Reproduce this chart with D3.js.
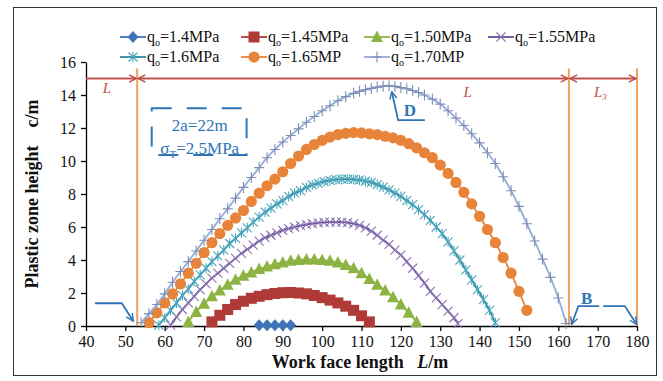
<!DOCTYPE html>
<html>
<head>
<meta charset="utf-8">
<script src="https://cdn.jsdelivr.net/npm/d3@7"></script>
<style>
  body { margin: 0; background: #fff; }
  svg text { font-family: "Times New Roman", "Liberation Serif", serif; }
</style>
</head>
<body>
<svg id="chart" width="663" height="381"></svg>
<script>
// values: [work face length L (m), plastic zone height c (m)]
const q140 = [[84,0.05],[86,0.05],[88,0.05],[90,0.05],[92,0.05]]

const q145 = [[72,0.25],[74,0.65],[76,1.0],[78,1.3],[80,1.5],[82,1.68],[84,1.8],[86,1.9],[88,1.97],[90,2.02],
  [92,2.03],[94,2.0],[96,1.95],[98,1.85],[100,1.72],[102,1.57],[104,1.4],[106,1.2],[108,0.95],[110,0.62],[112,0.25]]

const q150 = [[66,0.25],[68,0.85],[70,1.35],[72,1.8],[74,2.15],[76,2.5],[78,2.8],[80,3.05],[82,3.25],[84,3.45],
  [86,3.6],[88,3.75],[90,3.85],[92,3.95],[94,4.0],[96,4.03],[98,4.03],[100,4.0],[102,3.95],[104,3.85],[106,3.7],
  [108,3.5],[110,3.2],[112,2.85],[114,2.5],[116,2.15],[118,1.75],[120,1.3],[122,0.8],[124,0.25]]

const q155 = [[61.5,0.05],[63,0.55],[64.5,1.0],[66,1.4],[67.5,1.8],[69,2.2],[70.5,2.55],[72,2.9],[73.5,3.2],[75,3.5],
  [76.5,3.8],[78,4.1],[79.5,4.4],[81,4.65],[82.5,4.9],[84,5.15],[85.5,5.35],[87,5.5],[88.5,5.65],[90,5.8],[91.5,5.9],
  [93,6.0],[94.5,6.08],[96,6.15],[97.5,6.2],[99,6.25],[100.5,6.28],[102,6.3],[103.5,6.3],[105,6.3],[106.5,6.27],
  [108,6.2],[109.5,6.1],[111,5.95],[112.5,5.75],[114,5.5],[115.5,5.2],[117,4.95],[118.5,4.6],[120,4.3],[121.5,3.9],
  [123,3.5],[124.5,3.05],[126,2.6],[127.5,2.1],[129,1.7],[130.5,1.3],[132,0.9],[133.5,0.5],[134.5,0.15]]

const q160 = [[58.5,0.05],[60,0.5],[61.5,0.95],[63,1.4],[64.5,1.85],[66,2.25],[67.5,2.7],[69,3.1],[70.5,3.5],[72,3.9],
  [73.5,4.25],[75,4.6],[76.5,5.0],[78,5.3],[79.5,5.65],[81,5.95],[82.5,6.3],[84,6.6],[85.5,6.9],[87,7.15],[88.5,7.4],
  [90,7.6],[91.5,7.85],[93,8.05],[94.5,8.2],[96,8.4],[97.5,8.55],[99,8.65],[100.5,8.75],[102,8.82],[103.5,8.87],
  [105,8.9],[106.5,8.9],[108,8.88],[109.5,8.85],[111,8.78],[112.5,8.7],[114,8.57],[115.5,8.42],[117,8.25],[118.5,8.05],
  [120,7.85],[121.5,7.6],[123,7.35],[124.5,7.05],[126,6.75],[127.5,6.4],[129,6.0],[130.5,5.6],[132,5.1],[133.5,4.55],
  [135,4.0],[136.5,3.4],[138,2.8],[139.5,2.2],[141,1.6],[142.5,0.95],[144,0.2]]

const q165 = [[56,0.2],[58,0.8],[60,1.4],[62,1.95],[64,2.55],[66,3.2],[68,3.8],[70,4.45],[72,5.05],[74,5.6],
  [76,6.1],[78,6.55],[80,7.0],[82,7.55],[84,8.05],[86,8.5],[88,8.9],[90,9.35],[92,9.85],[94,10.3],[96,10.7],
  [98,11.0],[100,11.25],[102,11.45],[104,11.6],[106,11.68],[108,11.72],[110,11.7],[112,11.65],[114,11.6],[116,11.5],
  [118,11.4],[120,11.25],[122,11.05],[124,10.8],[126,10.5],[128,10.2],[130,9.75],[132,9.25],[134,8.7],[136,8.1],
  [138,7.4],[140,6.65],[142,5.85],[144,5.05],[146,4.15],[148,3.2],[150,2.1],[152,0.95]]

const q170 = [[54,0.2],[56,0.75],[58,1.3],[60,1.95],[62,2.65],[64,3.3],[66,3.9],[68,4.55],[70,5.2],[72,5.85],
  [74,6.5],[76,7.1],[78,7.75],[80,8.4],[82,9.0],[84,9.6],[86,10.2],[88,10.7],[90,11.15],[92,11.55],[94,11.95],
  [96,12.35],[98,12.7],[100,13.05],[102,13.35],[104,13.65],[106,13.9],[108,14.1],[109.5,14.22],[111,14.32],
  [112.5,14.4],[114,14.48],[115.5,14.53],[117,14.56],[118.5,14.52],[120,14.45],[121.5,14.38],[123,14.27],
  [124.5,14.15],[126,14.0],[128,13.75],[130,13.45],[132,13.05],[134,12.6],[136,12.15],[138,11.65],[140,11.1],
  [142,10.5],[144,9.85],[146,9.05],[148,8.2],[150,7.25],[152,6.2],[154,5.15],[156,4.05],[158,2.95],[160,1.7],[162,0.15]]

const seriesLabels = ['=1.4MPa', '=1.45MPa', '=1.50MPa', '=1.55MPa', '=1.6MPa', '=1.65MP', '=1.70MP']
const xTicks = [40, 50, 60, 70, 80, 90, 100, 110, 120, 130, 140, 150, 160, 170, 180]
const yTicks = [0, 2, 4, 6, 8, 10, 12, 14, 16]

const series = [
  { data: q140, label: seriesLabels[0], line: '#3f73b8', mark: '#3f73b8', shape: 'diamond' },
  { data: q145, label: seriesLabels[1], line: '#b03a38', mark: '#b03a38', shape: 'square' },
  { data: q150, label: seriesLabels[2], line: '#8db443', mark: '#8db443', shape: 'triangle' },
  { data: q155, label: seriesLabels[3], line: '#6b4a97', mark: '#8a74b3', shape: 'x' },
  { data: q160, label: seriesLabels[4], line: '#2f8d9f', mark: '#4aa6bd', shape: 'star' },
  { data: q165, label: seriesLabels[5], line: '#e8843a', mark: '#e8843a', shape: 'circle' },
  { data: q170, label: seriesLabels[6], line: '#93abd6', mark: '#7d8db6', shape: 'plus' }
]

const svg = d3.select('#chart')
const x = d3.scaleLinear().domain([40, 180]).range([86, 637])
const y = d3.scaleLinear().domain([0, 16]).range([326, 62])

// outer frame
svg.append('rect').attr('x', 13.5).attr('y', 7.5).attr('width', 643).attr('height', 368)
  .attr('fill', 'none').attr('stroke', '#333').attr('stroke-width', 1)

// arrow heads
const defs = svg.append('defs')
function arrowDef(id, color) {
  defs.append('marker').attr('id', id)
    .attr('viewBox', '0 0 10 10').attr('refX', 9).attr('refY', 5)
    .attr('markerWidth', 9).attr('markerHeight', 9).attr('markerUnits', 'userSpaceOnUse')
    .attr('orient', 'auto-start-reverse')
    .append('path').attr('d', 'M1,1 L9,5 L1,9')
    .attr('fill', 'none').attr('stroke', color).attr('stroke-width', 1.6)
}
arrowDef('arRed', '#c0504d')
arrowDef('arBlue', '#2e75b6')

// axes
const xAxis = svg.append('g').attr('transform', `translate(0,${y(0)})`)
  .call(d3.axisBottom(x).tickValues(xTicks).tickSize(5).tickSizeOuter(0).tickPadding(5))
const yAxis = svg.append('g').attr('transform', `translate(${x(40)},0)`)
  .call(d3.axisLeft(y).tickValues(yTicks).tickSize(5).tickSizeOuter(0).tickPadding(5))
;[xAxis, yAxis].forEach(a => {
  a.selectAll('path, line').attr('stroke', '#000').attr('stroke-width', 1.3)
  a.selectAll('text').attr('font-size', 16).attr('fill', '#111')
    .attr('font-family', '"Times New Roman","Liberation Serif",serif')
})

// reference lines (orange verticals, red dimension line)
const vLines = [53, 162.7, 180]
vLines.forEach(v => {
  svg.append('line').attr('x1', x(v)).attr('x2', x(v)).attr('y1', y(15.6)).attr('y2', y(0))
    .attr('stroke', '#f5a05a').attr('stroke-width', 2)
})
const dims = [[40, 53, false], [53, 162.7, true], [162.7, 180, true]]
dims.forEach(([a, b, both]) => {
  const l = svg.append('line').attr('x1', x(a) + (both ? 1 : 0)).attr('x2', x(b) - 1)
    .attr('y1', y(15)).attr('y2', y(15))
    .attr('stroke', '#c0504d').attr('stroke-width', 1.8)
    .attr('marker-end', 'url(#arRed)')
  if (both) l.attr('marker-start', 'url(#arRed)')
})
function redL(v, yv, sub) {
  const t = svg.append('text').attr('x', x(v)).attr('y', y(yv)).attr('fill', '#c0504d')
    .attr('font-size', 15).attr('font-style', 'italic').attr('text-anchor', 'middle').text('L')
  if (sub) t.append('tspan').attr('font-size', 9).attr('dy', 3).text(sub)
}
redL(45.3, 14.1)
redL(137, 13.9)
redL(170.7, 13.9, '3')

// series lines and markers
const lineGen = d3.line().x(d => x(d[0])).y(d => y(d[1])).curve(d3.curveCatmullRom.alpha(0.5))

function drawMarker(g, shape, color) {
  if (shape === 'diamond') {
    g.append('path').attr('d', 'M0,-6L5.5,0L0,6L-5.5,0Z').attr('fill', color)
  } else if (shape === 'square') {
    g.append('rect').attr('x', -5.5).attr('y', -5.5).attr('width', 11).attr('height', 11).attr('fill', color)
  } else if (shape === 'triangle') {
    g.append('path').attr('d', 'M0,-6.5L6,5L-6,5Z').attr('fill', color)
  } else if (shape === 'circle') {
    g.append('circle').attr('r', 5.6).attr('fill', color)
  } else {
    let p = ''
    if (shape === 'x' || shape === 'star') p += 'M-4.5,-4.5L4.5,4.5M-4.5,4.5L4.5,-4.5'
    if (shape === 'star') p += 'M0,-5L0,5'
    if (shape === 'plus') p += 'M-5,0L5,0M0,-5.5L0,5.5'
    g.append('path').attr('d', p).attr('stroke', color).attr('stroke-width', 1.1).attr('fill', 'none')
  }
}

series.forEach(s => {
  svg.append('path').datum(s.data).attr('d', lineGen)
    .attr('fill', 'none').attr('stroke', s.line).attr('stroke-width', 1.8)
  svg.append('g').selectAll('g').data(s.data).join('g')
    .attr('transform', d => `translate(${x(d[0])},${y(d[1])})`)
    .each(function () { drawMarker(d3.select(this), s.shape, s.mark) })
})

// legend
const legX = [120, 241, 364, 488]
series.forEach((s, i) => {
  const row = i < 4 ? 0 : 1
  const col = i < 4 ? i : i - 4
  const g = svg.append('g').attr('transform', `translate(${legX[col]},${row ? 57 : 37})`)
  g.append('line').attr('x1', 0).attr('x2', 26).attr('stroke', s.line).attr('stroke-width', 1.8)
  drawMarker(g.append('g').attr('transform', 'translate(13,0)'), s.shape, s.mark)
  const t = g.append('text').attr('x', 27).attr('y', 5).attr('font-size', 16).attr('fill', '#111')
  t.append('tspan').text('q')
  t.append('tspan').attr('font-size', 10).attr('dy', 4).text('o')
  t.append('tspan').attr('dy', -4).text(s.label)
})

// blue annotations
const blue = '#2e75b6'
const box = [56.7, 80.8, 13.2, 10.36]
svg.append('rect').attr('x', x(box[0])).attr('y', y(box[2]))
  .attr('width', x(box[1]) - x(box[0])).attr('height', y(box[3]) - y(box[2]))
  .attr('fill', 'none').attr('stroke', blue).attr('stroke-width', 2).attr('stroke-dasharray', '20,15')
svg.append('text').attr('x', x(68.9)).attr('y', y(11.8)).attr('text-anchor', 'middle')
  .attr('font-size', 17).attr('fill', blue).text('2a=22m')
const sig = svg.append('text').attr('x', x(68.9)).attr('y', y(10.45)).attr('text-anchor', 'middle')
  .attr('font-size', 17).attr('fill', blue)
sig.append('tspan').text('σ')
sig.append('tspan').attr('font-size', 11).attr('dy', 4).text('T')
sig.append('tspan').attr('dy', -4).text('=2.5MPa')

const pointers = [
  [[42.3, 1.38], [49.1, 1.38], [52.0, 0.3]],
  [[126.1, 12.48], [119.3, 12.48], [117.7, 14.2]],
  [[170.4, 1.21], [165.1, 1.21], [163.4, 0.1]],
  [[171.4, 1.21], [176.9, 1.21], [179.9, 0.1]]
]
const ptrLine = d3.line().x(d => x(d[0])).y(d => y(d[1]))
pointers.forEach(p => {
  svg.append('path').attr('d', ptrLine(p)).attr('fill', 'none')
    .attr('stroke', blue).attr('stroke-width', 1.8).attr('marker-end', 'url(#arBlue)')
})
svg.append('text').attr('x', x(122.3)).attr('y', y(12.75)).attr('text-anchor', 'middle')
  .attr('font-size', 17).attr('font-weight', 'bold').attr('fill', blue).text('D')
svg.append('text').attr('x', x(167.2)).attr('y', y(1.35)).attr('text-anchor', 'middle')
  .attr('font-size', 17).attr('font-weight', 'bold').attr('fill', blue).text('B')

// axis titles
const xt = svg.append('text').attr('x', 360).attr('y', 368).attr('text-anchor', 'middle')
  .attr('font-size', 18).attr('font-weight', 'bold').attr('fill', '#111')
xt.append('tspan').text('Work face length\u2002 ')
xt.append('tspan').attr('font-style', 'italic').text('L')
xt.append('tspan').text('/m')
svg.append('text').attr('transform', 'translate(38,194) rotate(-90)').attr('text-anchor', 'middle')
  .attr('font-size', 18).attr('font-weight', 'bold').attr('fill', '#111')
  .text('Plastic zone height\u2002\u2002c/m')
</script>
</body>
</html>
